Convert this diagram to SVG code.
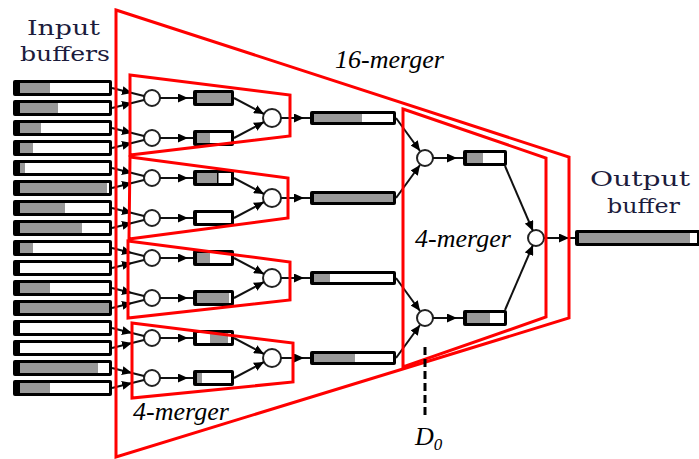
<svg xmlns="http://www.w3.org/2000/svg" width="699" height="459" viewBox="0 0 699 459">
<defs>
<marker id="arr" markerUnits="userSpaceOnUse" markerWidth="11" markerHeight="9" refX="10" refY="4.5" orient="auto"><path d="M0,0 L10,4.5 L0,9 z" fill="#000"/></marker>
</defs>
<style>
.bk{fill:#000}
.wh{fill:#fff}
.gr{fill:#999}
.node circle{fill:#fff;stroke:#222;stroke-width:2}
.red{fill:none;stroke:#ff0000;stroke-width:3;stroke-linejoin:miter}
.con path{fill:none;stroke:#111;stroke-width:2}
.it{font-family:"Liberation Serif",serif;font-style:italic;font-size:26px;fill:#000}
.lab{font-family:"DejaVu Serif",serif;font-size:21px;fill:#1c1c3c}
</style>
<rect width="699" height="459" fill="#fff"/>

<!-- labels -->
<text class="lab" x="27" y="35" textLength="73" lengthAdjust="spacingAndGlyphs">Input</text>
<text class="lab" x="20" y="61" textLength="90" lengthAdjust="spacingAndGlyphs">buffers</text>
<text class="lab" x="590" y="186" textLength="100" lengthAdjust="spacingAndGlyphs">Output</text>
<text class="lab" x="607" y="213" textLength="73" lengthAdjust="spacingAndGlyphs">buffer</text>

<!-- input buffers -->
<g id="input-buffers">
<g><rect class="bk" x="13" y="80" width="99" height="16" rx="2"/><rect class="wh" x="20" y="83" width="89" height="10"/><rect class="gr" x="20" y="83" width="30" height="10"/></g>
<g><rect class="bk" x="13" y="100" width="99" height="16" rx="2"/><rect class="wh" x="20" y="103" width="89" height="10"/><rect class="gr" x="20" y="103" width="38" height="10"/></g>
<g><rect class="bk" x="13" y="120" width="99" height="16" rx="2"/><rect class="wh" x="20" y="123" width="89" height="10"/><rect class="gr" x="20" y="123" width="21" height="10"/></g>
<g><rect class="bk" x="13" y="140" width="99" height="16" rx="2"/><rect class="wh" x="20" y="143" width="89" height="10"/><rect class="gr" x="20" y="143" width="13" height="10"/></g>
<g><rect class="bk" x="13" y="160" width="99" height="16" rx="2"/><rect class="wh" x="20" y="163" width="89" height="10"/><rect class="gr" x="20" y="163" width="5" height="10"/></g>
<g><rect class="bk" x="13" y="180" width="99" height="16" rx="2"/><rect class="wh" x="20" y="183" width="89" height="10"/><rect class="gr" x="20" y="183" width="87" height="10"/></g>
<g><rect class="bk" x="13" y="200" width="99" height="16" rx="2"/><rect class="wh" x="20" y="203" width="89" height="10"/><rect class="gr" x="20" y="203" width="45" height="10"/></g>
<g><rect class="bk" x="13" y="220" width="99" height="16" rx="2"/><rect class="wh" x="20" y="223" width="89" height="10"/><rect class="gr" x="20" y="223" width="62" height="10"/></g>
<g><rect class="bk" x="13" y="240" width="99" height="16" rx="2"/><rect class="wh" x="20" y="243" width="89" height="10"/><rect class="gr" x="20" y="243" width="13" height="10"/></g>
<g><rect class="bk" x="13" y="260" width="99" height="16" rx="2"/><rect class="wh" x="20" y="263" width="89" height="10"/></g>
<g><rect class="bk" x="13" y="280" width="99" height="16" rx="2"/><rect class="wh" x="20" y="283" width="89" height="10"/><rect class="gr" x="20" y="283" width="30" height="10"/></g>
<g><rect class="bk" x="13" y="300" width="99" height="16" rx="2"/><rect class="wh" x="20" y="303" width="89" height="10"/><rect class="gr" x="20" y="303" width="89" height="10"/></g>
<g><rect class="bk" x="13" y="320" width="99" height="16" rx="2"/><rect class="wh" x="20" y="323" width="89" height="10"/></g>
<g><rect class="bk" x="13" y="340" width="99" height="16" rx="2"/><rect class="wh" x="20" y="343" width="89" height="10"/></g>
<g><rect class="bk" x="13" y="360" width="99" height="16" rx="2"/><rect class="wh" x="20" y="363" width="89" height="10"/><rect class="gr" x="20" y="363" width="78" height="10"/></g>
<g><rect class="bk" x="13" y="380" width="99" height="16" rx="2"/><rect class="wh" x="20" y="383" width="89" height="10"/><rect class="gr" x="20" y="383" width="30" height="10"/></g>
</g>

<!-- level-1 merger nodes and buffers -->
<g id="l1-nodes" class="node">
<circle cx="152" cy="98" r="8"/><circle cx="152" cy="138" r="8"/><circle cx="152" cy="178" r="8"/><circle cx="152" cy="218" r="8"/>
<circle cx="152" cy="258" r="8"/><circle cx="152" cy="298" r="8"/><circle cx="152" cy="338" r="8"/><circle cx="152" cy="378" r="8"/>
</g>
<g id="l1-buffers">
<g><rect class="bk" x="193" y="90" width="41" height="16" rx="2"/><rect class="wh" x="197" y="93" width="34" height="10"/><rect class="gr" x="197" y="93" width="34" height="10"/></g>
<g><rect class="bk" x="193" y="130" width="41" height="16" rx="2"/><rect class="wh" x="197" y="133" width="34" height="10"/><rect class="gr" x="197" y="133" width="13" height="10"/></g>
<g><rect class="bk" x="193" y="170" width="41" height="16" rx="2"/><rect class="wh" x="197" y="173" width="34" height="10"/><rect class="gr" x="197" y="173" width="20" height="10"/><rect class="bk" x="217" y="173" width="1.5" height="10"/></g>
<g><rect class="bk" x="193" y="210" width="41" height="16" rx="2"/><rect class="wh" x="197" y="213" width="34" height="10"/></g>
<g><rect class="bk" x="193" y="250" width="41" height="16" rx="2"/><rect class="wh" x="197" y="253" width="34" height="10"/><rect class="gr" x="197" y="253" width="13" height="10"/></g>
<g><rect class="bk" x="193" y="290" width="41" height="16" rx="2"/><rect class="wh" x="197" y="293" width="34" height="10"/><rect class="gr" x="197" y="293" width="32" height="10"/></g>
<g><rect class="bk" x="193" y="330" width="41" height="16" rx="2"/><rect class="wh" x="197" y="333" width="34" height="10"/><rect class="gr" x="210" y="333" width="18" height="10"/></g>
<g><rect class="bk" x="193" y="370" width="41" height="16" rx="2"/><rect class="wh" x="197" y="373" width="34" height="10"/><rect class="gr" x="197" y="373" width="5" height="10"/></g>
</g>

<!-- level-2 -->
<g id="l2-nodes" class="node">
<circle cx="272" cy="118" r="9"/><circle cx="272" cy="198" r="9"/><circle cx="272" cy="278" r="9"/><circle cx="272" cy="358" r="9"/>
</g>
<g id="l2-buffers">
<g><rect class="bk" x="310" y="111" width="86" height="14" rx="2"/><rect class="wh" x="314" y="114" width="79" height="8"/><rect class="gr" x="314" y="114" width="48" height="8"/></g>
<g><rect class="bk" x="310" y="191" width="86" height="14" rx="2"/><rect class="wh" x="314" y="194" width="79" height="8"/><rect class="gr" x="314" y="194" width="79" height="8"/></g>
<g><rect class="bk" x="310" y="271" width="86" height="14" rx="2"/><rect class="wh" x="314" y="274" width="79" height="8"/><rect class="gr" x="314" y="274" width="16" height="8"/></g>
<g><rect class="bk" x="310" y="351" width="86" height="14" rx="2"/><rect class="wh" x="314" y="354" width="79" height="8"/><rect class="gr" x="314" y="354" width="41" height="8"/></g>
</g>

<!-- level-3 -->
<g id="l3-nodes" class="node">
<circle cx="425" cy="158" r="8"/><circle cx="425" cy="318" r="8"/>
</g>
<g id="l3-buffers">
<g><rect class="bk" x="463" y="150" width="44" height="16" rx="2"/><rect class="wh" x="467" y="153" width="37" height="10"/><rect class="gr" x="467" y="153" width="16" height="10"/></g>
<g><rect class="bk" x="463" y="310" width="44" height="16" rx="2"/><rect class="wh" x="467" y="313" width="37" height="10"/><rect class="gr" x="467" y="313" width="23" height="10"/></g>
</g>

<!-- final -->
<g id="final-node" class="node"><circle cx="536" cy="238" r="8"/></g>
<g id="output-buffer"><rect class="bk" x="575" y="230" width="126" height="16" rx="2"/><rect class="wh" x="579" y="233" width="118" height="10"/><rect class="gr" x="579" y="233" width="111" height="10"/></g>

<!-- connectors -->
<g id="connectors" class="con">
<path d="M112,88 L132,93 L144,96" marker-mid="url(#arr)"/><path d="M112,108 L132,103 L144,100" marker-mid="url(#arr)"/>
<path d="M112,128 L132,133 L144,136" marker-mid="url(#arr)"/><path d="M112,148 L132,143 L144,140" marker-mid="url(#arr)"/>
<path d="M112,168 L132,173 L144,176" marker-mid="url(#arr)"/><path d="M112,188 L132,183 L144,180" marker-mid="url(#arr)"/>
<path d="M112,208 L132,213 L144,216" marker-mid="url(#arr)"/><path d="M112,228 L132,223 L144,220" marker-mid="url(#arr)"/>
<path d="M112,248 L132,253 L144,256" marker-mid="url(#arr)"/><path d="M112,268 L132,263 L144,260" marker-mid="url(#arr)"/>
<path d="M112,288 L132,293 L144,296" marker-mid="url(#arr)"/><path d="M112,308 L132,303 L144,300" marker-mid="url(#arr)"/>
<path d="M112,328 L132,333 L144,336" marker-mid="url(#arr)"/><path d="M112,348 L132,343 L144,340" marker-mid="url(#arr)"/>
<path d="M112,368 L132,373 L144,376" marker-mid="url(#arr)"/><path d="M112,388 L132,383 L144,380" marker-mid="url(#arr)"/>

<path d="M160,98 L188,98 L193,98" marker-mid="url(#arr)"/>
<path d="M160,138 L188,138 L193,138" marker-mid="url(#arr)"/>
<path d="M160,178 L188,178 L193,178" marker-mid="url(#arr)"/>
<path d="M160,218 L188,218 L193,218" marker-mid="url(#arr)"/>
<path d="M160,258 L188,258 L193,258" marker-mid="url(#arr)"/>
<path d="M160,298 L188,298 L193,298" marker-mid="url(#arr)"/>
<path d="M160,338 L188,338 L193,338" marker-mid="url(#arr)"/>
<path d="M160,378 L188,378 L193,378" marker-mid="url(#arr)"/>

<path d="M234,98 L264,114" marker-end="url(#arr)"/><path d="M234,138 L264,122" marker-end="url(#arr)"/>
<path d="M234,178 L264,194" marker-end="url(#arr)"/><path d="M234,218 L264,202" marker-end="url(#arr)"/>
<path d="M234,258 L264,274" marker-end="url(#arr)"/><path d="M234,298 L264,282" marker-end="url(#arr)"/>
<path d="M234,338 L264,354" marker-end="url(#arr)"/><path d="M234,378 L264,362" marker-end="url(#arr)"/>

<path d="M281,118 L304,118 L310,118" marker-mid="url(#arr)"/>
<path d="M281,198 L304,198 L310,198" marker-mid="url(#arr)"/>
<path d="M281,278 L304,278 L310,278" marker-mid="url(#arr)"/>
<path d="M281,358 L304,358 L310,358" marker-mid="url(#arr)"/>

<path d="M396,118 L420,151" marker-end="url(#arr)"/><path d="M396,198 L420,165" marker-end="url(#arr)"/>
<path d="M396,278 L420,311" marker-end="url(#arr)"/><path d="M396,358 L420,325" marker-end="url(#arr)"/>

<path d="M433,158 L457,158 L463,158" marker-mid="url(#arr)"/>
<path d="M433,318 L457,318 L463,318" marker-mid="url(#arr)"/>

<path d="M505,166 L533,231" marker-end="url(#arr)"/>
<path d="M505,310 L533,245" marker-end="url(#arr)"/>

<path d="M544,238 L569,238 L575,238" marker-mid="url(#arr)"/>
</g>

<!-- red merger outlines -->
<g id="merger16"><polygon class="red" points="116,10 569,157 569,318 116,457"/></g>
<g id="merger4-right"><polygon class="red" points="403,109 546,158 546,317 403,367"/></g>
<g id="merger4-a"><polygon class="red" points="130,75 290,95 290,136 130,155"/></g>
<g id="merger4-b"><polygon class="red" points="130,157 288,178 288,218 129,239"/></g>
<g id="merger4-c"><polygon class="red" points="128,241 290,262 290,300 128,318"/></g>
<g id="merger4-d"><polygon class="red" points="132,323 293,343 293,382 132,398"/></g>

<!-- D0 marker -->
<line x1="425" y1="347" x2="425" y2="416" stroke="#000" stroke-width="3" stroke-dasharray="8,4"/>

<text class="it" x="335" y="68">16-merger</text>
<text class="it" x="415" y="247">4-merger</text>
<text class="it" x="133" y="420">4-merger</text>
<text class="it" x="415" y="445">D<tspan font-size="17" dy="5">0</tspan></text>
</svg>
